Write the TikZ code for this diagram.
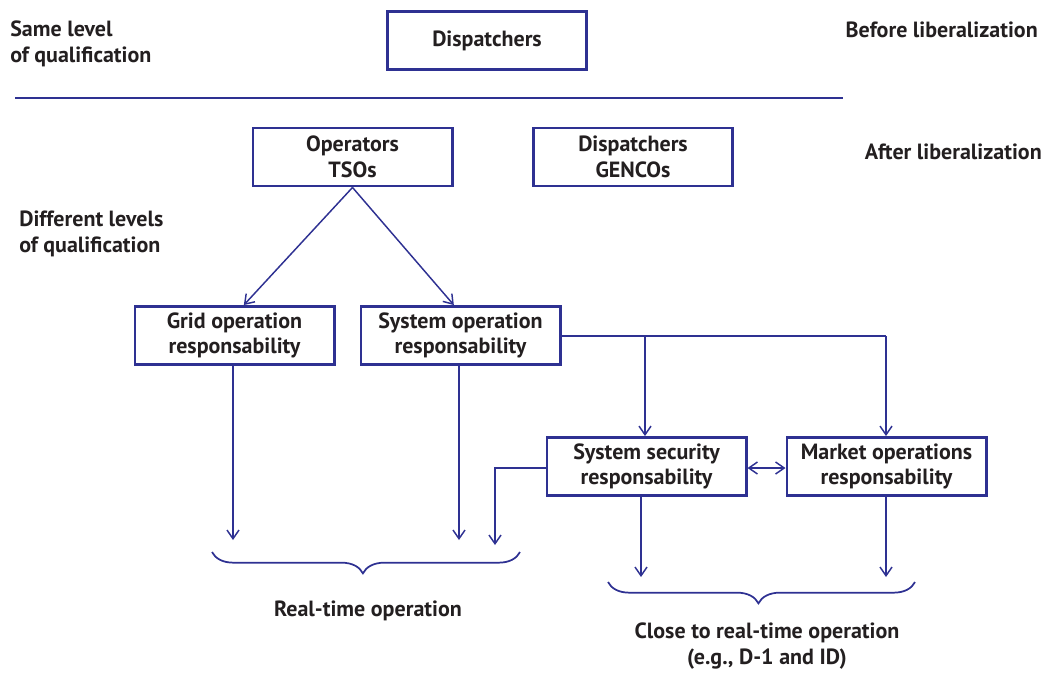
\documentclass[tikz,border=0pt]{standalone}
\usepackage{fontspec}
\setmainfont{PT Sans}
\usetikzlibrary{arrows.meta,decorations.pathreplacing}
\definecolor{navy}{HTML}{2E3192}
\definecolor{ink}{HTML}{231F20}
\begin{document}
\begin{tikzpicture}[x=0.75pt,y=-0.75pt,
  txt/.style={text=ink,font=\bfseries\fontsize{16.5}{19.3}\selectfont,align=center,inner sep=0pt},
  box/.style={txt,draw=navy,line width=2.2pt,rectangle,inner sep=0pt,minimum width=149.3pt,minimum height=43.5pt},
  conn/.style={draw=navy,line width=1.1pt},
  arr/.style={conn,-{Straight Barb[length=6.5pt,width=9pt,line width=1.1pt]}},
  darr/.style={conn,{Straight Barb[length=6.5pt,width=9pt,line width=1.1pt]}-{Straight Barb[length=6.5pt,width=9pt,line width=1.1pt]}},
  brc/.style={draw=navy,line width=1.3pt,decorate,decoration={brace,mirror,amplitude=16pt,aspect=0.49}}]
\useasboundingbox (0,0) rectangle (1044,672);
% texts
\node[txt,align=left,anchor=west] (same) at (10,43.5) {Same level\\of qualification};
\node[txt,anchor=east] (before) at (1038,30) {Before liberalization};
\node[txt,anchor=east] (after) at (1042,152) {After liberalization};
\node[txt,align=left,anchor=west] (diff) at (19,234) {Different levels\\of qualification};
% boxes
\node[box] (disp) at (487,40.5) {Dispatchers};
\node[box] (ops) at (352.5,157) {Operators\\TSOs};
\node[box] (gencos) at (633,157) {Dispatchers\\GENCOs};
\node[box] (grid) at (234.5,335.5) {Grid operation\\responsability};
\node[box] (sysop) at (460.5,335.5) {System operation\\responsability};
\node[box] (sec) at (646.5,466.5) {System security\\responsability};
\node[box] (mkt) at (886.5,466.5) {Market operations\\responsability};
% separator
\coordinate (sepL) at (15,98);
\coordinate (sepR) at (843,98);
\draw[navy,line width=2.2pt] (sepL) -- (sepR);
% connectors
\draw[arr] (ops.south) -- ([xshift=7]grid.north);
\draw[arr] (ops.south) -- ([xshift=-5]sysop.north);
\coordinate (branchA) at (645,336);
\coordinate (branchB) at (886,336);
\draw[conn] (sysop.east |- branchA) -- (branchB);
\draw[arr] (branchA) -- (sec.north -| branchA);
\draw[arr] (branchB) -- (mkt.north -| branchB);
\draw[darr] (sec.east |- 0,468) -- (mkt.west |- 0,468);
\coordinate (secTurn) at (495,468);
\coordinate (secEnd) at (495,545);
\draw[arr] (sec.west |- secTurn) -- (secTurn) -- (secEnd);
\coordinate (gridEnd) at (233,540);
\coordinate (sysEnd) at (459,540);
\draw[arr] (grid.south -| gridEnd) -- (gridEnd);
\draw[arr] (sysop.south -| sysEnd) -- (sysEnd);
\coordinate (secEnd2) at (641,577);
\coordinate (mktEnd) at (886,577);
\draw[arr] (sec.south -| secEnd2) -- (secEnd2);
\draw[arr] (mkt.south -| mktEnd) -- (mktEnd);
% braces
\coordinate (b1L) at (212,552);
\coordinate (b1R) at (520,552);
\coordinate (b2L) at (608,582);
\coordinate (b2R) at (915,582);
\draw[brc] (b1L) -- (b1R);
\draw[brc] (b2L) -- (b2R);
\node[txt] (rt) at (368,611) {Real-time operation};
\node[txt] (crt) at (767,646) {Close to real-time operation\\(e.g., D-1 and ID)};
\end{tikzpicture}
\end{document}
